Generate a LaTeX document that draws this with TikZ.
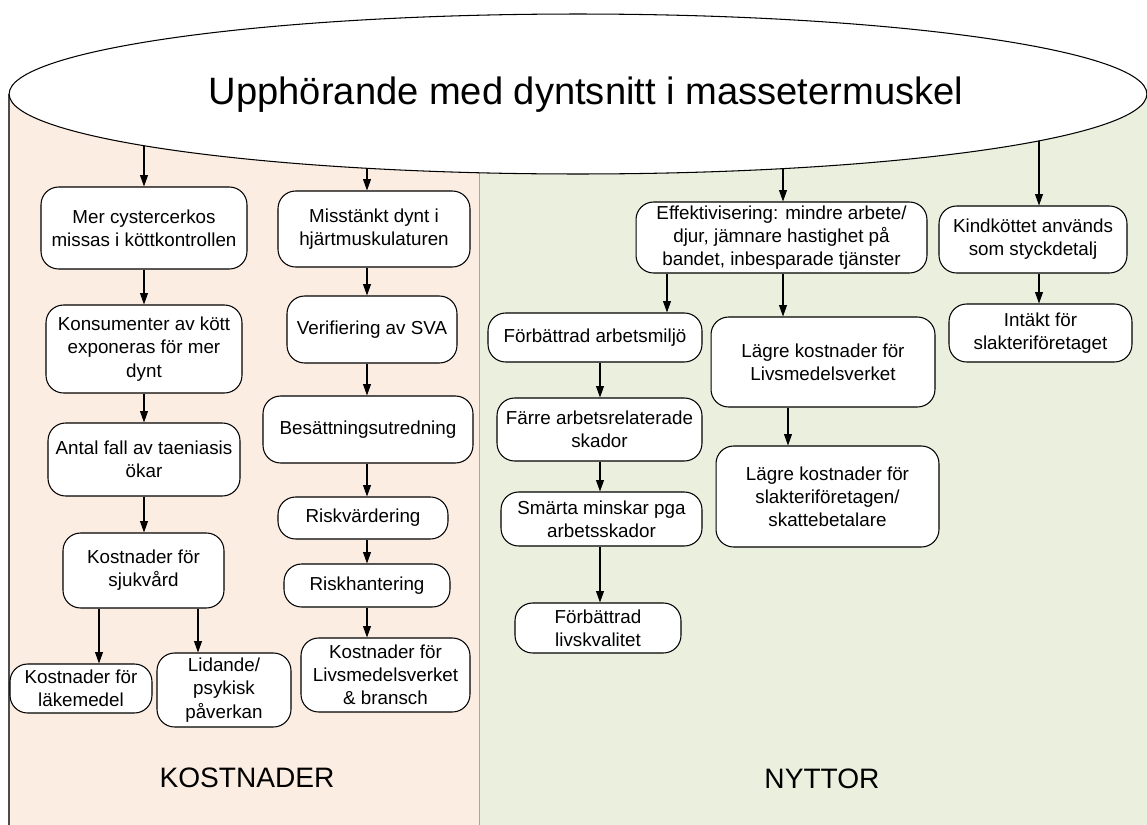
\documentclass[tikz,border=0pt]{standalone}
\usepackage{fontspec}
\setmainfont{Liberation Sans}
\usepackage{xcolor}
\usepackage{tikz}
\usetikzlibrary{arrows.meta,positioning,shapes.geometric,backgrounds}

\definecolor{costbg}{RGB}{252,237,226}
\definecolor{gainbg}{RGB}{235,239,222}

\begin{document}
\begin{tikzpicture}[
    x=0.02cm, y=-0.02cm,
    box/.style={draw, fill=white, rounded corners=10pt, align=center, inner sep=1pt,
                line width=0.6pt, font=\fontsize{10.7}{13.2}\selectfont},
    arr/.style={-{Triangle[length=6.5pt,width=4.5pt]}, line width=0.6pt},
    side/.style={font=\fontsize{16}{19}\selectfont}
]
    \useasboundingbox (0,0) rectangle (1147,825);

    % Panels
    \begin{scope}[on background layer]
    \fill[costbg] (9,94) rectangle (479,830);
    \fill[gainbg] (479,94) rectangle (1150,830);
    \draw[gray!60!black, line width=0.6pt] (9,94) -- (9,830);
    \draw[gray!70, line width=0.5pt] (479,94) -- (479,830);
    \end{scope}

    % Title
    \node[ellipse, draw, fill=white, line width=0.6pt, inner sep=0pt,
          minimum width=22.76cm, minimum height=3.2cm] (title) at (578,94) {};
    \node[font=\fontsize{21.7}{25}\selectfont] (titletxt) at (586,95) {Upphörande med dyntsnitt i massetermuskel};

    % Costs: left column
    \node[box, minimum width=4.12cm, minimum height=1.64cm] (b1) at (144,228) {Mer cystercerkos\\missas i köttkontrollen};
    \node[box, minimum width=3.92cm, minimum height=1.76cm] (b3) at (144,349) {Konsumenter av kött\\exponeras för mer\\dynt};
    \node[box, minimum width=3.84cm, minimum height=1.46cm] (b5) at (144,459.5) {Antal fall av taeniasis\\ökar};
    \node[box, minimum width=3.22cm, minimum height=1.5cm] (b10) at (143.5,570.5) {Kostnader för\\sjukvård};
    \node[box, minimum width=2.84cm, minimum height=0.98cm] (b11) at (81,688.5) {Kostnader för\\läkemedel};
    \node[box, minimum width=2.68cm, minimum height=1.48cm] (b12) at (224,690) {Lidande/\\psykisk\\påverkan};

    % Costs: right column
    \node[box, minimum width=3.84cm, minimum height=1.52cm] (b2) at (374,229) {Misstänkt dynt i\\hjärtmuskulaturen};
    \node[box, minimum width=3.4cm, minimum height=1.34cm] (b4) at (372,329.5) {Verifiering av SVA};
    \node[box, minimum width=4.2cm, minimum height=1.34cm] (b6) at (368,429.5) {Besättningsutredning};
    \node[box, minimum width=3.4cm, minimum height=0.84cm] (b7) at (363,518) {Riskvärdering};
    \node[box, minimum width=3.32cm, minimum height=0.86cm] (b8) at (367,585.5) {Riskhantering};
    \node[box, minimum width=3.38cm, minimum height=1.48cm] (b9) at (385.5,675) {Kostnader för\\Livsmedelsverket\\\& bransch};

    % Benefits
    \node[box, minimum width=5.82cm, minimum height=1.42cm] (r1) at (781.5,237.5) {Effektivisering: mindre arbete/\\djur, jämnare hastighet på\\bandet, inbesparade tjänster};
    \node[box, minimum width=3.76cm, minimum height=1.34cm] (r2) at (1033,239.5) {Kindköttet används\\som styckdetalj};
    \node[box, minimum width=4.28cm, minimum height=0.98cm] (r3) at (595,337.5) {Förbättrad arbetsmiljö};
    \node[box, minimum width=4.48cm, minimum height=1.8cm] (r4) at (823,362) {Lägre kostnader för\\Livsmedelsverket};
    \node[box, minimum width=3.66cm, minimum height=1.16cm] (r5) at (1040.5,333) {Intäkt för\\slakteriföretaget};
    \node[box, minimum width=4.1cm, minimum height=1.26cm] (r6) at (599.5,429.5) {Färre arbetsrelaterade\\skador};
    \node[box, minimum width=4.02cm, minimum height=1.08cm] (r7) at (601.5,519) {Smärta minskar pga\\arbetsskador};
    \node[box, minimum width=3.32cm, minimum height=1.0cm] (r8) at (598,628) {Förbättrad\\livskvalitet};
    \node[box, minimum width=4.46cm, minimum height=2.02cm] (r9) at (827.5,496.5) {Lägre kostnader för\\slakteriföretagen/\\skattebetalare};

    % Side labels
    \node[side] (kost) at (247,778) {KOSTNADER};
    \node[side] (nytt) at (822,779) {NYTTOR};

    % Arrow columns
    \coordinate (cA) at (144,0);
    \coordinate (cB) at (367,0);
    \coordinate (cC) at (99,0);
    \coordinate (cD) at (198,0);
    \coordinate (cE) at (667,0);
    \coordinate (cF) at (600,0);
    \coordinate (cG) at (788,0);
    \coordinate (cH) at (1039,0);
    \coordinate (cI) at (783,0);

    % Arrows from the title (start hidden under the ellipse)
    \begin{scope}[on background layer]
    \draw[arr] (title.center -| cA) -- (b1.north -| cA);
    \draw[arr] (title.center -| cB) -- (b2.north -| cB);
    \draw[arr] (title.center -| cI) -- (r1.north -| cI);
    \draw[arr] (title.center -| cH) -- (r2.north -| cH);
    \end{scope}

    % Arrows, costs
    \draw[arr] (b1.south -| cA) -- (b3.north -| cA);
    \draw[arr] (b3.south -| cA) -- (b5.north -| cA);
    \draw[arr] (b5.south -| cA) -- (b10.north -| cA);
    \draw[arr] (b10.south -| cC) -- (b11.north -| cC);
    \draw[arr] (b10.south -| cD) -- (b12.north -| cD);
    \draw[arr] (b2.south -| cB) -- (b4.north -| cB);
    \draw[arr] (b4.south -| cB) -- (b6.north -| cB);
    \draw[arr] (b6.south -| cB) -- (b7.north -| cB);
    \draw[arr] (b7.south -| cB) -- (b8.north -| cB);
    \draw[arr] (b8.south -| cB) -- (b9.north -| cB);

    % Arrows, benefits
    \draw[arr] (r1.south -| cE) -- (r3.north -| cE);
    \draw[arr] (r1.south -| cI) -- (r4.north -| cI);
    \draw[arr] (r2.south -| cH) -- (r5.north -| cH);
    \draw[arr] (r3.south -| cF) -- (r6.north -| cF);
    \draw[arr] (r6.south -| cF) -- (r7.north -| cF);
    \draw[arr] (r7.south -| cF) -- (r8.north -| cF);
    \draw[arr] (r4.south -| cG) -- (r9.north -| cG);
\end{tikzpicture}
\end{document}
